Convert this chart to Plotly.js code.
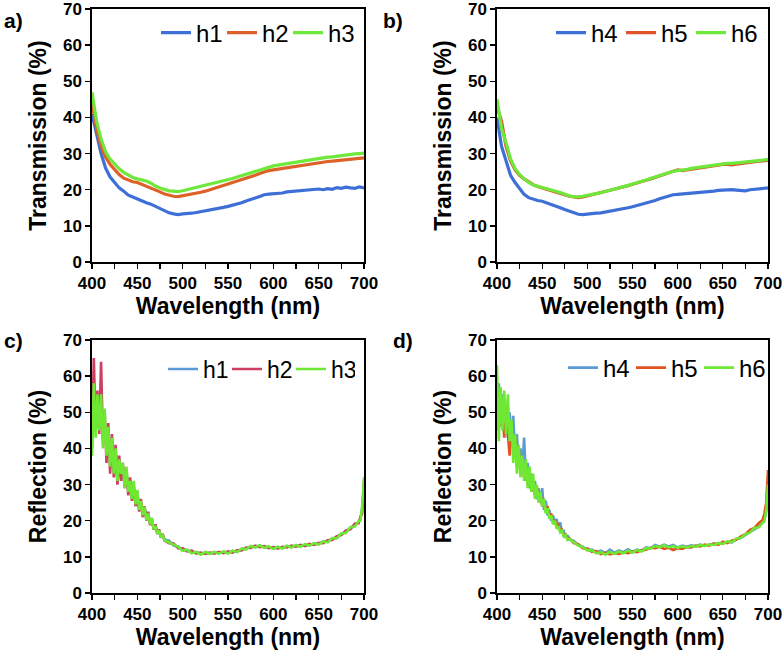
<!DOCTYPE html>
<html>
<head>
<meta charset="utf-8">
<script src="https://cdn.plot.ly/plotly-3.0.1.min.js"></script>
<style>html,body{margin:0;padding:0;background:#fff;}#chart{width:784px;height:650px;}</style>
</head>
<body>
<div id="chart"></div>
<script>
// ---------- DATA ----------
// Transmission wavelengths (nm)
var wlT = [400,405,410,415,420,425,430,435,440,445,450,455,460,465,470,475,480,485,490,495,500,505,510,515,520,525,530,535,540,545,550,555,560,565,570,575,580,585,590,595,600,605,610,615,620,625,630,635,640,645,650,655,660,665,670,675,680,685,690,695,700];
// Panel a) transmission
var tH1 = [41,35,30,26,23.5,22,20.5,19.6,18.5,18,17.4,17,16.4,16,15.4,14.8,14.2,13.6,13.3,13.1,13.3,13.3,13.5,13.7,13.9,14.1,14.4,14.6,14.9,15.1,15.4,15.7,16.1,16.4,16.9,17.2,17.7,18.1,18.6,18.8,18.9,18.8,19.1,19.4,19.5,19.6,19.9,19.8,20.1,20.2,20.2,20.0,20.3,20.1,20.6,20.4,20.7,20.5,20.4,20.8,20.5];
var tH2 = [44,37,32,29,27,25.5,24.2,23.2,22.6,22.2,22,21.5,21,20.6,20,19.4,18.8,18.4,18.2,18.1,18.3,18.5,18.8,19.1,19.3,19.6,20,20.3,20.7,21,21.4,21.8,22.3,22.7,23.2,23.6,24,24.5,25,25.3,25.5,25.7,26,26.1,26.3,26.6,26.8,27,27.2,27.4,27.6,27.7,27.8,27.9,28,28.1,28.3,28.4,28.5,28.7,28.8];
var tH3 = [47,39,34,30.5,28.5,27,25.8,24.8,24,23.4,23,22.7,22.4,21.8,21,20.5,20,19.7,19.6,19.5,19.7,20,20.2,20.5,20.8,21.1,21.5,21.8,22,22.3,22.7,23.1,23.5,23.9,24.3,24.7,25.2,25.6,26,26.3,26.6,26.8,27,27.3,27.5,27.8,28,28.2,28.4,28.6,28.7,28.9,29,29.1,29.3,29.4,29.6,29.7,29.9,30,30.1];
// Panel b) transmission
var tH4 = [40,32,28,24,22,20.2,18.7,17.8,17.3,17,16.8,16.4,16,15.5,15,14.5,14,13.6,13.2,13.1,13.3,13.4,13.5,13.6,13.8,14,14.3,14.5,14.8,15,15.3,15.6,15.9,16.2,16.6,17,17.5,17.9,18.3,18.6,18.7,18.8,18.8,18.9,19,19.1,19.3,19.5,19.6,19.8,19.9,20,20,19.9,19.8,19.7,20,20.1,20.2,20.3,20.5];
var tH5 = [43,39,32,28,25.5,24,23,22.2,21.4,20.9,20.5,20.2,19.9,19.5,19,18.6,18.2,18,17.8,18,18.3,18.5,18.8,19.1,19.4,19.7,20.1,20.4,20.8,21.1,21.5,21.8,22.2,22.6,23,23.4,23.8,24.3,24.7,25,25.5,25.3,25.5,25.8,25.9,26.1,26.3,26.5,26.7,26.8,27,27,26.9,27.1,27.3,27.4,27.6,27.8,27.9,28,28.1];
var tH6 = [45,37,33,28.5,25.8,24.2,23,22,21.3,21,20.6,20.3,20,19.6,19.2,18.7,18.3,18.1,18,18.2,18.4,18.6,18.9,19.2,19.5,19.8,20.2,20.5,20.9,21.2,21.6,21.9,22.3,22.7,23.1,23.5,24,24.4,24.8,25.1,25.3,25.4,25.6,25.9,26.1,26.3,26.5,26.7,26.9,27,27.2,27.3,27.3,27.4,27.5,27.6,27.8,27.9,28.1,28.2,28.4];

// Reflection wavelengths (nm)
var wlR = [400,402,404,406,408,410,412,414,416,418,420,422,424,426,428,430,432,434,436,438,440,442,444,446,448,450,452,454,456,458,460,462,464,466,468,470,472,474,476,478,480,
           485,490,495,500,505,510,515,520,525,530,535,540,545,550,555,560,565,570,575,580,585,590,595,600,605,610,615,620,625,630,635,640,645,650,655,660,665,670,675,680,685,690,694,696,698,700];
// Panel c) reflection
var rH1 = [44,54,47,53,45,50,43,47,40,45,38,42,36,39,34,37,32,35,30,33,28.5,31,27,29,25.5,27,23.5,25,22,23.5,20.8,21.8,19.5,20,18,18.5,16.8,17.2,15.7,16,14.8,
           14.5,13.1,12.9,11.8,11.9,11.2,11.3,10.8,11.2,10.9,11.3,11,11.4,11.1,11.6,11.4,12.2,12.2,12.9,12.7,13.1,12.6,12.8,12.3,12.7,12.4,13,12.7,13.2,12.9,13.4,13.2,13.7,13.5,14.2,14.2,15.1,15.3,16.4,16.8,18.1,18.6,19.8,20.3,23.5,29];
var rH2 = [40,65,45,56,44,64,42,50,36,47,33,44,32,41,30,38,31,36,29,34,27,32,25.5,30,24,28,22.5,26,21,24,20,22.5,18.8,20.5,17.5,19,16.3,17.6,15.3,16.3,14.5,
           13.8,13.7,12.4,12.4,11.5,11.7,10.9,11.2,10.8,11.2,10.9,11.4,11,11.5,11.2,11.8,11.8,12.6,12.5,13.1,12.7,13,12.4,12.7,12.3,12.8,12.6,13.1,12.8,13.3,13,13.6,13.3,13.9,13.8,14.6,14.7,15.7,16,17.3,17.6,19.2,19.3,21,22,31];
var rH3 = [38,58,43,55,45,55,40,51,38,46,35,43,33,40,31,37,33,36,29,35,28,31,26,31,24.5,28.5,23,25.5,21.5,23.8,20.2,22,19,20.8,17.6,18.6,16.4,17.3,15.4,16.1,14.6,
           14,13.2,12.8,11.7,12,11,11.4,10.6,11.4,10.8,11.4,10.9,11.5,10.9,11.7,11.3,12.3,12.1,13,12.6,13.2,12.5,12.9,12.2,12.8,12.3,13.1,12.6,13.3,12.8,13.5,13.1,13.8,13.4,14.3,14,15.2,15.1,16.5,16.6,18.2,18.4,19.9,20,24,32];
// Panel d) reflection
var rH4 = [45,58,48,55,44,52,43,50,41,49,38,44,36,40,34,43,31,36,29,33,28,31,26,29,25,29,23,25.5,21.5,23,20,21.5,19,20.5,18,19.5,16.5,17,15.3,16,14.8,
           14.4,13.2,12.8,11.9,12,11.3,11.7,11,12,11.1,11.8,11.3,12.1,11.4,12,11.7,12.6,12.4,13.3,12.8,13.4,12.9,13.3,12.6,13.1,12.8,13.2,12.9,13.4,13.1,13.4,13.4,13.8,13.7,14.2,14,14.9,15.3,16.1,16.9,17.8,18.4,19.6,20.5,22.5,26];
var rH5 = [48,55,46,52,43,51,44,38,46,40,43,35,40,33,37,32,36,30,34,28,31,27,29.5,26,28,24,26,22.5,24,21,22,19.5,20.2,18.3,18.8,17.2,17.5,16,16.2,15,15.2,
           13.8,13.5,12.4,12.3,11.4,11.6,10.8,11.2,10.7,11,10.8,11.2,11,11.5,11.3,11.8,12,12.5,12.4,12.8,12.2,12.5,11.9,12.4,12.2,12.7,12.6,13.1,12.9,13.4,13.1,13.7,13.3,14.2,13.8,14.5,14.7,15.7,16.3,17.5,18,19.4,20.2,22,25,34];
var rH6 = [63,42,57,45,56,44,55,42,48,36,44,33,41,32,38,31,37,29,35,28,33,26,30,25,28,24,26,22,23.5,20.5,21.5,19,20,17.8,18.5,16.8,17.2,15.6,16,14.7,15,
           14.1,13.1,12.7,11.8,11.8,11,11.3,10.6,11.4,10.8,11.5,11,11.7,11.2,11.9,11.5,12.4,12.3,13,12.7,13.2,12.6,13,12.5,12.9,12.6,13,12.8,13.3,13,13.4,13.3,13.8,13.6,14.3,14.1,15.1,15.2,16.3,16.7,18,18.2,19.5,19.8,23,30];

var xTickVals = [400,450,500,550,600,650,700];
var yTickVals = [0,10,20,30,40,50,60,70];
var panelLabels = ['a)','b)','c)','d)'];
var xTitle = 'Wavelength (nm)';
var yTitleT = 'Transmission (%)';
var yTitleR = 'Reflection (%)';

// ---------- STYLE / BUILD ----------
var FONT = 'Liberation Sans, Arial, Helvetica, sans-serif';
function tr(x, y, name, color, w, xa, ya, lg) {
  return {x: x, y: y, name: name, type: 'scatter', mode: 'lines',
    line: {color: color, width: w}, xaxis: xa, yaxis: ya, legend: lg, hoverinfo: 'skip'};
}
var TW = 3.2, RW = 2.6;
var data = [
  tr(wlT, tH1, 'h1', '#3d6fd6', TW, 'x', 'y', 'legend'),
  tr(wlT, tH2, 'h2', '#dd6128', TW, 'x', 'y', 'legend'),
  tr(wlT, tH3, 'h3', '#6ee83a', TW, 'x', 'y', 'legend'),
  tr(wlT, tH4, 'h4', '#3d6fd6', TW, 'x2', 'y2', 'legend2'),
  tr(wlT, tH5, 'h5', '#e0532a', TW, 'x2', 'y2', 'legend2'),
  tr(wlT, tH6, 'h6', '#6ee83a', TW, 'x2', 'y2', 'legend2'),
  tr(wlR, rH1, 'h1', '#5b9bd5', RW, 'x3', 'y3', 'legend3'),
  tr(wlR, rH2, 'h2', '#cc3f62', RW, 'x3', 'y3', 'legend3'),
  tr(wlR, rH3, 'h3', '#6ee833', RW, 'x3', 'y3', 'legend3'),
  tr(wlR, rH4, 'h4', '#5b9bd5', RW, 'x4', 'y4', 'legend4'),
  tr(wlR, rH5, 'h5', '#e0531f', RW, 'x4', 'y4', 'legend4'),
  tr(wlR, rH6, 'h6', '#6ee833', RW, 'x4', 'y4', 'legend4')
];

var tickFont = {family: FONT, size: 17, color: '#000', weight: 'bold'};
var titleFont = {family: FONT, size: 23, color: '#000', weight: 'bold'};
function xax(dom, anchor) {
  return {domain: dom, anchor: anchor, range: [400, 700], tickvals: xTickVals,
    ticks: 'outside', ticklen: 5, tickwidth: 1.3, tickcolor: '#000', ticklabeloverflow: 'allow',
    minor: {dtick: 25, tick0: 400, ticks: 'outside', ticklen: 5, tickwidth: 1.3, tickcolor: '#000'},
    showline: true, linecolor: '#000', linewidth: 1.6, mirror: true, showgrid: false, zeroline: false,
    tickfont: tickFont, title: {text: xTitle, font: titleFont, standoff: 0}, fixedrange: true};
}
function yax(dom, anchor, t) {
  return {domain: dom, anchor: anchor, range: [0, 70], tickvals: yTickVals,
    ticks: 'outside', ticklen: 5, tickwidth: 1.3, tickcolor: '#000', ticklabeloverflow: 'allow',
    showline: true, linecolor: '#000', linewidth: 1.6, mirror: true, showgrid: false, zeroline: false,
    tickfont: tickFont, title: {text: t, font: titleFont, standoff: 10}, fixedrange: true};
}
var dxL = [92/784, 364/784], dxR = [497/784, 768/784];
var dyT = [388/650, 641/650], dyB = [57/650, 310/650];
function lg(x, y, ew, fs) {
  return {x: x, y: y, xanchor: 'left', yanchor: 'middle', orientation: 'h',
    entrywidth: ew, entrywidthmode: 'pixels',
    font: {family: FONT, size: fs, color: '#000'}, bgcolor: 'rgba(0,0,0,0)', borderwidth: 0,
    itemclick: false, itemdoubleclick: false, tracegroupgap: 0};
}
var ann = [];
var annPos = [[2, 20], [381, 20], [2, 340], [391, 340]];
for (var i = 0; i < 4; i++) {
  ann.push({text: panelLabels[i], xref: 'paper', yref: 'paper', x: annPos[i][0]/784, y: 1 - annPos[i][1]/650,
    xanchor: 'left', yanchor: 'middle', showarrow: false, font: {family: FONT, size: 21, color: '#000', weight: 'bold'}});
}
var layout = {
  width: 784, height: 650, margin: {l: 0, r: 0, t: 0, b: 0, autoexpand: false},
  paper_bgcolor: '#fff', plot_bgcolor: '#fff', showlegend: true,
  xaxis: xax(dxL, 'y'), yaxis: yax(dyT, 'x', yTitleT),
  xaxis2: xax(dxR, 'y2'), yaxis2: yax(dyT, 'x2', yTitleT),
  xaxis3: xax(dxL, 'y3'), yaxis3: yax(dyB, 'x3', yTitleR),
  xaxis4: xax(dxR, 'y4'), yaxis4: yax(dyB, 'x4', yTitleR),
  legend: lg(156/784, 1 - 33/650, 21, 24),
  legend2: lg(551/784, 1 - 33/650, 25, 24),
  legend3: lg(163/784, 1 - 369/650, 19, 23),
  legend4: lg(563/784, 1 - 368/650, 23, 24),
  annotations: ann
};
Plotly.newPlot('chart', data, layout, {displayModeBar: false, staticPlot: true});
</script>
</body>
</html>
